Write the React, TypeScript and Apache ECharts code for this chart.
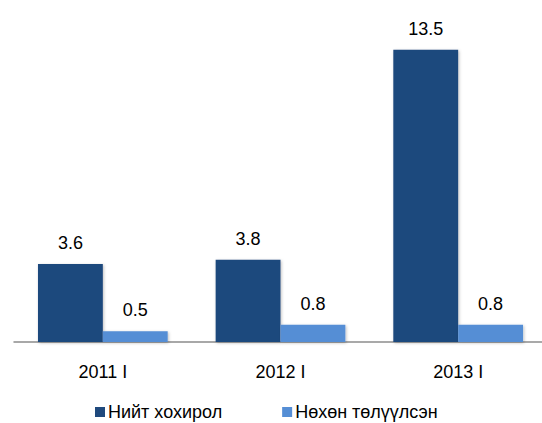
import React, { useEffect, useRef } from "react";
import * as echarts from "echarts";

const categories = ["2011 I", "2012 I", "2013 I"];
const totalLoss = [3.6, 3.8, 13.5];
const compensated = [0.5, 0.8, 0.8];
const seriesNames = ["Нийт хохирол", "Нөхөн төлүүлсэн"];

export default function App() {
  const ref = useRef<HTMLDivElement>(null);
  useEffect(() => {
    if (!ref.current) return;
    const chart = echarts.init(ref.current, undefined, { renderer: "svg" });
    const font = "'Liberation Sans', Arial, sans-serif";
    const label = {
      show: true,
      position: "top" as const,
      distance: 12,
      fontSize: 18,
      color: "#000",
      fontFamily: font,
    };
    chart.setOption({
      animation: false,
      textStyle: { fontFamily: font },
      grid: { left: 14, right: -5, top: 39, bottom: 81, outerBoundsMode: "none", containLabel: false },
      legend: {
        top: 403,
        left: 95,
        padding: [0, 0, 0, 0],
        itemWidth: 10,
        itemHeight: 10,
        itemGap: 60,
        icon: "rect",
        textStyle: { fontSize: 18, color: "#000", fontFamily: font, padding: [0, 0, 0, -2] },
        data: seriesNames,
      },
      xAxis: {
        type: "category",
        data: categories,
        axisLine: { lineStyle: { color: "#8c8c8c", width: 1.5 } },
        axisTick: { show: false },
        axisLabel: { fontSize: 18, color: "#000", margin: 21, fontFamily: font },
      },
      yAxis: {
        type: "value",
        min: 0,
        max: 14,
        show: false,
        splitLine: { show: false },
      },
      series: [
        {
          name: seriesNames[0],
          type: "bar",
          data: totalLoss,
          barGap: "0%",
          barCategoryGap: "27%",
          itemStyle: {
            color: "#1f497d",
            shadowColor: "rgba(0,0,0,0.25)",
            shadowBlur: 3,
            shadowOffsetX: 1,
            shadowOffsetY: 1,
          },
          label: { ...label, formatter: (p: any) => p.value.toFixed(1) },
        },
        {
          name: seriesNames[1],
          type: "bar",
          data: compensated,
          itemStyle: {
            color: "#558ed5",
            shadowColor: "rgba(0,0,0,0.25)",
            shadowBlur: 3,
            shadowOffsetX: 1,
            shadowOffsetY: 1,
          },
          label: { ...label, formatter: (p: any) => p.value.toFixed(1) },
        },
      ],
    });
    return () => chart.dispose();
  }, []);
  return <div ref={ref} style={{ width: 542, height: 423, position: "absolute", left: 0, top: 0 }} />;
}
